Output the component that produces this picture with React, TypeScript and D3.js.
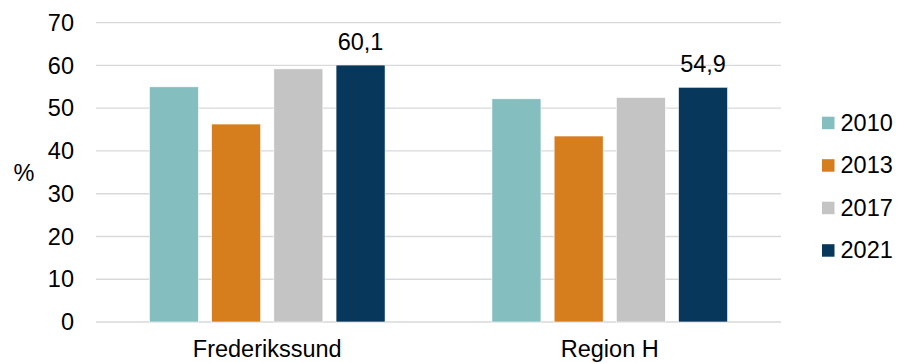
import React from "react";
import * as d3 from "d3";

const categories = ["Frederikssund", "Region H"];
const years = ["2010", "2013", "2017", "2021"];
const values2010 = [55.0, 52.2];
const values2013 = [46.3, 43.5];
const values2017 = [59.2, 52.5];
const values2021 = [60.1, 54.9];
const yTicks = [0, 10, 20, 30, 40, 50, 60, 70];
const colors = ["#84BEBF", "#D67D1E", "#C4C4C4", "#08375C"];

const seriesValues = [values2010, values2013, values2017, values2021];

const W = 897;
const H = 363;
const FONT = "'Liberation Sans', Arial, sans-serif";

export default function App() {
  const y = d3.scaleLinear().domain([0, 70]).range([322, 22.7]);
  const x0 = d3.scaleBand<string>().domain(categories).range([96, 781]).padding(0);
  const x1 = d3
    .scaleBand<string>()
    .domain(years)
    .range([0, x0.bandwidth()])
    .paddingInner(0.212)
    .paddingOuter(0.859);
  const fmt = (v: number) => v.toFixed(1).replace(".", ",");

  return (
    <svg
      width={W}
      height={H}
      style={{ position: "absolute", left: 0, top: 0, background: "#fff" }}
      fontFamily={FONT}
    >
      {yTicks.map((t) => (
        <g key={t}>
          <line x1={96} x2={781} y1={y(t)} y2={y(t)} stroke="#D9D9D9" strokeWidth={1.3} />
          <text x={74} y={y(t)} dy="0.35em" textAnchor="end" fontSize={23.5} fill="#000">
            {t}
          </text>
        </g>
      ))}
      <text x={24} y={173} dy="0.35em" textAnchor="middle" fontSize={23.5} fill="#000">
        %
      </text>
      {categories.map((c, ci) => (
        <g key={c} transform={`translate(${x0(c)},0)`}>
          {years.map((yr, si) => {
            const v = seriesValues[si][ci];
            return (
              <rect
                key={yr}
                x={x1(yr)}
                y={y(v)}
                width={x1.bandwidth()}
                height={y(0) - y(v)}
                fill={colors[si]}
                stroke="#fff"
                strokeWidth={0.6}
              />
            );
          })}
          <text
            x={(x1("2021") as number) + x1.bandwidth() / 2}
            y={y(values2021[ci]) - 15.5}
            textAnchor="middle"
            fontSize={23.5}
            fill="#000"
          >
            {fmt(values2021[ci])}
          </text>
          <text
            x={x0.bandwidth() / 2}
            y={356.5}
            textAnchor="middle"
            fontSize={23.5}
            fill="#000"
          >
            {c}
          </text>
        </g>
      ))}
      {years.map((yr, si) => {
        const cy = 122.7 + si * 42.5;
        return (
          <g key={yr}>
            <rect x={822} y={cy - 6} width={12.5} height={12.5} fill={colors[si]} />
            <text x={840.5} y={cy} dy="0.35em" fontSize={23.5} fill="#000">
              {yr}
            </text>
          </g>
        );
      })}
    </svg>
  );
}
